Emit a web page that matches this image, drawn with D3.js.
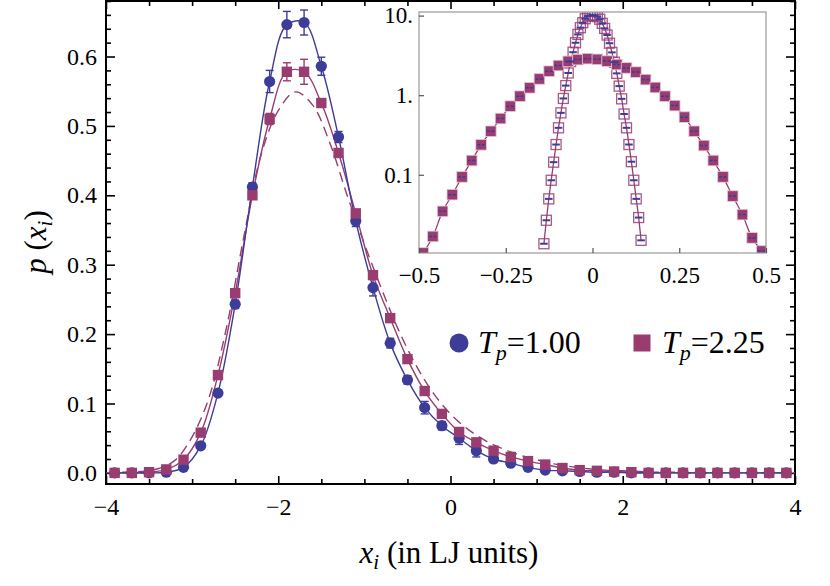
<!DOCTYPE html>
<html>
<head>
  <meta charset="utf-8">
  <title>p(x_i) distributions</title>
  <style>
    body { margin: 0; background: #fff; }
    svg { display: block; font-family: "Liberation Serif", "Times New Roman", serif; }
  </style>
</head>
<body>
  <svg width="830" height="586"></svg>

  <script src="https://d3js.org/d3.v7.min.js"></script>
  <script>
    // ---- main panel data ----
    var xMain = [-3.9, -3.7, -3.5, -3.3, -3.1, -2.9, -2.7, -2.5, -2.3, -2.1,
                 -1.9, -1.7, -1.5, -1.3, -1.1, -0.9, -0.7, -0.5, -0.3, -0.1,
                 0.1, 0.3, 0.5, 0.7, 0.9, 1.1, 1.3, 1.5, 1.7, 1.9,
                 2.1, 2.3, 2.5, 2.7, 2.9, 3.1, 3.3, 3.5, 3.7, 3.9];
    // T_p = 1.00
    var pBlue = [0.000, 0.000, 0.000, 0.001, 0.008, 0.039, 0.115, 0.243, 0.412, 0.564,
                 0.646, 0.649, 0.586, 0.484, 0.363, 0.267, 0.187, 0.134, 0.094, 0.068,
                 0.050, 0.032, 0.020, 0.014, 0.008, 0.004, 0.003, 0.002, 0.001, 0.001,
                 0, 0, 0, 0, 0, 0, 0, 0, 0, 0];
    var errBlue = [0.002, 0.002, 0.002, 0.002, 0.002, 0.003, 0.004, 0.006, 0.006, 0.016,
                   0.019, 0.018, 0.013, 0.008, 0.008, 0.012, 0.007, 0.006, 0.009, 0.006,
                   0.009, 0.009, 0.005, 0.003, 0.002, 0.002, 0.002, 0.002, 0.002, 0.002,
                   0.002, 0.002, 0.002, 0.002, 0.002, 0.002, 0.002, 0.002, 0.002, 0.002];
    // T_p = 2.25
    var pPurple = [0.000, 0.000, 0.001, 0.005, 0.019, 0.058, 0.141, 0.259, 0.400, 0.510,
                   0.578, 0.578, 0.533, 0.461, 0.374, 0.285, 0.223, 0.164, 0.118, 0.085,
                   0.059, 0.044, 0.032, 0.023, 0.017, 0.012, 0.007, 0.004, 0.003, 0.002,
                   0.001, 0, 0, 0, 0, 0, 0, 0, 0, 0];
    var errPurple = [0.002, 0.002, 0.002, 0.002, 0.003, 0.003, 0.004, 0.004, 0.005, 0.008,
                     0.013, 0.018, 0.006, 0.005, 0.004, 0.004, 0.004, 0.003, 0.003, 0.003,
                     0.003, 0.003, 0.002, 0.002, 0.002, 0.002, 0.002, 0.002, 0.002, 0.002,
                     0.002, 0.002, 0.002, 0.002, 0.002, 0.002, 0.002, 0.002, 0.002, 0.002];
    // dashed reference curve for T_p = 2.25
    var xDash = [-4.0, -3.8, -3.6, -3.4, -3.2, -3.0, -2.8, -2.6, -2.4, -2.2,
                 -2.0, -1.8, -1.6, -1.4, -1.2, -1.0, -0.8, -0.6, -0.4, -0.2,
                 0.0, 0.2, 0.4, 0.6, 0.8, 1.0, 1.2, 1.4, 1.6, 1.8,
                 2.0, 2.2, 2.4, 2.6, 2.8, 3.0, 3.2, 3.4, 3.6, 3.8, 4.0];
    var pDash = [0.000, 0.001, 0.002, 0.006, 0.018, 0.052, 0.110, 0.210, 0.340, 0.458,
                 0.522, 0.549, 0.530, 0.475, 0.400, 0.330, 0.265, 0.205, 0.155, 0.115,
                 0.085, 0.063, 0.047, 0.035, 0.026, 0.019, 0.013, 0.009, 0.006, 0.004,
                 0.003, 0.002, 0.001, 0.001, 0, 0, 0, 0, 0, 0, 0];

    var xMajor = [-4, -2, 0, 2, 4];
    var yMajor = [0, 0.1, 0.2, 0.3, 0.4, 0.5, 0.6];

    // ---- inset data (log scale) ----
    var xWide = [-0.488, -0.460, -0.432, -0.404, -0.376, -0.348, -0.321, -0.293, -0.265, -0.237,
                 -0.209, -0.181, -0.153, -0.125, -0.098, -0.070, -0.042, -0.014,
                 0.014, 0.042, 0.070, 0.098, 0.125, 0.153, 0.181, 0.209,
                 0.237, 0.265, 0.293, 0.321, 0.348, 0.376, 0.404, 0.432, 0.460, 0.488];
    var pWide = [0.0104, 0.0168, 0.0347, 0.0563, 0.094, 0.151, 0.238, 0.352, 0.509, 0.728,
                 0.971, 1.24, 1.60, 2.00, 2.36, 2.66, 2.80, 2.88,
                 2.82, 2.68, 2.43, 2.20, 1.95, 1.57, 1.25, 0.97,
                 0.74, 0.53, 0.352, 0.233, 0.151, 0.094, 0.054, 0.0316, 0.0161, 0.0110];
    var xNarrow = [-0.140, -0.133, -0.126, -0.119, -0.112, -0.105, -0.098, -0.091, -0.084, -0.077,
                   -0.070, -0.063, -0.056, -0.049, -0.042, -0.035, -0.028, -0.021, -0.014, -0.007,
                   0.000, 0.007, 0.014, 0.021, 0.028, 0.035, 0.042, 0.049, 0.056, 0.063,
                   0.070, 0.077, 0.084, 0.091, 0.098, 0.105, 0.112, 0.119, 0.126, 0.133, 0.140];
    var pNarrow = [0.0136, 0.0268, 0.0498, 0.0853, 0.144, 0.240, 0.389, 0.60, 0.91, 1.32,
                   1.90, 2.65, 3.47, 4.56, 5.80, 7.05, 8.14, 9.14, 9.86, 10.0,
                   10.2, 10.0, 9.7, 9.0, 8.0, 6.9, 5.7, 4.5, 3.45, 2.60,
                   1.88, 1.30, 0.90, 0.58, 0.389, 0.240, 0.146, 0.0853, 0.0498, 0.0290, 0.0150];

    var insetXTicks = [-0.5, -0.25, 0, 0.25, 0.5];
    var insetXLabels = ['\u22120.5', '\u22120.25', '0', '0.25', '0.5'];
    var insetYTicks = [10, 1, 0.1];
    var insetYLabels = ['10.', '1.', '0.1'];

    var blue = '#3d3d99';
    var purple = '#993d71';
    var serif = '"Liberation Serif", "Times New Roman", serif';

    var svg = d3.select('svg');

    // main panel scales
    var x = d3.scaleLinear().domain([-4, 4]).range([106, 795]);
    var y = d3.scaleLinear().domain([-0.016, 0.68]).range([484, 1]);

    var minorX = d3.range(-4, 4.001, 0.5).filter(function(v) { return Math.abs(v / 2 - Math.round(v / 2)) > 1e-6; });
    var minorY = d3.range(0, 0.681, 0.02).filter(function(v) { return Math.abs(v * 10 - Math.round(v * 10)) > 1e-6; });

    // d3 axes set a sans-serif font on their group, so put the serif back
    function styleAxis(g, size) {
      g.attr('font-family', serif);
      g.select('.domain').remove();
      g.selectAll('.tick line').attr('stroke', '#000').attr('stroke-width', 1.6);
      g.selectAll('.tick text').attr('font-size', size || 24).attr('fill', '#000');
    }

    // inward ticks on all four sides
    svg.append('g').attr('transform', 'translate(0,484)')
      .call(d3.axisBottom(x).tickValues(xMajor).tickSize(-8).tickPadding(14))
      .call(styleAxis);
    svg.append('g').attr('transform', 'translate(0,484)')
      .call(d3.axisBottom(x).tickValues(minorX).tickSize(-5).tickFormat(''))
      .call(styleAxis);
    svg.append('g').attr('transform', 'translate(0,1)')
      .call(d3.axisTop(x).tickValues(xMajor).tickSize(-8).tickFormat(''))
      .call(styleAxis);
    svg.append('g').attr('transform', 'translate(0,1)')
      .call(d3.axisTop(x).tickValues(minorX).tickSize(-5).tickFormat(''))
      .call(styleAxis);
    svg.append('g').attr('transform', 'translate(106,0)')
      .call(d3.axisLeft(y).tickValues(yMajor).tickSize(-9).tickPadding(9).tickFormat(d3.format('.1f')))
      .call(styleAxis);
    svg.append('g').attr('transform', 'translate(106,0)')
      .call(d3.axisLeft(y).tickValues(minorY).tickSize(-5).tickFormat(''))
      .call(styleAxis);
    svg.append('g').attr('transform', 'translate(795,0)')
      .call(d3.axisRight(y).tickValues(yMajor).tickSize(-9).tickFormat(''))
      .call(styleAxis);
    svg.append('g').attr('transform', 'translate(795,0)')
      .call(d3.axisRight(y).tickValues(minorY).tickSize(-5).tickFormat(''))
      .call(styleAxis);

    // frame
    svg.append('rect')
      .attr('x', 106).attr('y', 1).attr('width', 795 - 106).attr('height', 483)
      .attr('fill', 'none').attr('stroke', '#000').attr('stroke-width', 2);

    // curves
    var blueData = xMain.map(function(v, i) { return [v, pBlue[i], errBlue[i]]; });
    var purpleData = xMain.map(function(v, i) { return [v, pPurple[i], errPurple[i]]; });
    var dashData = xDash.map(function(v, i) { return [v, pDash[i]]; });

    var smooth = d3.line()
      .x(function(d) { return x(d[0]); })
      .y(function(d) { return y(d[1]); })
      .curve(d3.curveCatmullRom.alpha(0.5));

    svg.append('path').datum(dashData)
      .attr('d', smooth).attr('fill', 'none')
      .attr('stroke', purple).attr('stroke-width', 1.4).attr('stroke-dasharray', '10,6');
    svg.append('path').datum(purpleData)
      .attr('d', smooth).attr('fill', 'none')
      .attr('stroke', purple).attr('stroke-width', 1.4);
    svg.append('path').datum(blueData)
      .attr('d', smooth).attr('fill', 'none')
      .attr('stroke', blue).attr('stroke-width', 1.4);

    function errorBars(data, color) {
      var g = svg.append('g').attr('stroke', color).attr('stroke-width', 1.4);
      data.forEach(function(d) {
        var cx = x(d[0]), y0 = y(d[1] - d[2]), y1 = y(d[1] + d[2]);
        g.append('line').attr('x1', cx).attr('x2', cx).attr('y1', y0).attr('y2', y1);
        g.append('line').attr('x1', cx - 4).attr('x2', cx + 4).attr('y1', y0).attr('y2', y0);
        g.append('line').attr('x1', cx - 4).attr('x2', cx + 4).attr('y1', y1).attr('y2', y1);
      });
    }

    errorBars(blueData, blue);
    svg.append('g').selectAll('circle')
      .data(blueData).enter().append('circle')
      .attr('cx', function(d) { return x(d[0]); })
      .attr('cy', function(d) { return y(d[1]); })
      .attr('r', 5.6)
      .attr('fill', blue);

    errorBars(purpleData, purple);
    svg.append('g').selectAll('rect')
      .data(purpleData).enter().append('rect')
      .attr('x', function(d) { return x(d[0]) - 5.2; })
      .attr('y', function(d) { return y(d[1]) - 5.2; })
      .attr('width', 10.4).attr('height', 10.4)
      .attr('fill', purple);

    // legend
    var legend = svg.append('g');
    legend.append('circle').attr('cx', 459).attr('cy', 343).attr('r', 9.5).attr('fill', blue);
    legend.append('rect').attr('x', 633.5).attr('y', 334.5).attr('width', 17).attr('height', 17).attr('fill', purple);

    function tpLabel(xPos, value) {
      var t = legend.append('text').attr('x', xPos).attr('y', 353).attr('font-size', 32);
      t.append('tspan').attr('font-style', 'italic').text('T');
      t.append('tspan').attr('font-style', 'italic').attr('font-size', 22).attr('dy', 7).text('p');
      t.append('tspan').attr('dy', -7).text('=' + value);
    }
    tpLabel(478, '1.00');
    tpLabel(662, '2.25');

    // axis titles
    var xt = svg.append('text').attr('x', 449).attr('y', 563)
      .attr('text-anchor', 'middle').attr('font-size', 31);
    xt.append('tspan').attr('font-style', 'italic').text('x');
    xt.append('tspan').attr('font-style', 'italic').attr('font-size', 21).attr('dy', 6).text('i');
    xt.append('tspan').attr('dy', -6).text(' (in LJ units)');

    var yt = svg.append('text').attr('transform', 'translate(46,242) rotate(-90)')
      .attr('text-anchor', 'middle').attr('font-size', 31);
    yt.append('tspan').attr('font-style', 'italic').text('p');
    yt.append('tspan').text(' (');
    yt.append('tspan').attr('font-style', 'italic').text('x');
    yt.append('tspan').attr('font-style', 'italic').attr('font-size', 21).attr('dy', 6).text('i');
    yt.append('tspan').attr('dy', -6).text(')');

    // ---- inset ----
    var ix = d3.scaleLinear().domain([-0.5, 0.5]).range([419, 766]);
    var iy = d3.scaleLog().domain([0.0104, 11.1]).range([253, 12]);

    svg.append('rect')
      .attr('x', 419).attr('y', 12).attr('width', 766 - 419).attr('height', 253 - 12)
      .attr('fill', '#fff');

    svg.append('clipPath').attr('id', 'inset-clip')
      .append('rect').attr('x', 419).attr('y', 12).attr('width', 766 - 419).attr('height', 253 - 12);

    var inset = svg.append('g').attr('clip-path', 'url(#inset-clip)');

    var wideData = xWide.map(function(v, i) { return [v, pWide[i]]; });
    var narrowData = xNarrow.map(function(v, i) { return [v, pNarrow[i]]; });

    var insetLine = d3.line()
      .x(function(d) { return ix(d[0]); })
      .y(function(d) { return iy(d[1]); })
      .curve(d3.curveCatmullRom.alpha(0.5));

    inset.append('path').datum(narrowData).attr('d', insetLine)
      .attr('fill', 'none').attr('stroke', purple).attr('stroke-width', 1.3);
    inset.append('path').datum(wideData).attr('d', insetLine)
      .attr('fill', 'none').attr('stroke', purple).attr('stroke-width', 1.3);

    // open squares for the narrow distribution
    inset.append('g').selectAll('rect')
      .data(narrowData).enter().append('rect')
      .attr('x', function(d) { return ix(d[0]) - 5; })
      .attr('y', function(d) { return iy(d[1]) - 5; })
      .attr('width', 10).attr('height', 10)
      .attr('fill', 'none').attr('stroke', purple).attr('stroke-width', 1.3)
      .attr('stroke-opacity', 0.85);

    // filled squares for the wide distribution
    inset.append('g').selectAll('rect')
      .data(wideData).enter().append('rect')
      .attr('x', function(d) { return ix(d[0]) - 5.3; })
      .attr('y', function(d) { return iy(d[1]) - 5.3; })
      .attr('width', 10.6).attr('height', 10.6)
      .attr('fill', purple).attr('stroke', '#e6c9d8').attr('stroke-width', 0.8);

    // blue points sitting on top of the purple ones
    inset.append('g').selectAll('line')
      .data(narrowData).enter().append('line')
      .attr('x1', function(d) { return ix(d[0]) - 3.8; })
      .attr('x2', function(d) { return ix(d[0]) + 3.8; })
      .attr('y1', function(d) { return iy(d[1]); })
      .attr('y2', function(d) { return iy(d[1]); })
      .attr('stroke', blue).attr('stroke-width', 2);
    inset.append('g').selectAll('line')
      .data(wideData).enter().append('line')
      .attr('x1', function(d) { return ix(d[0]) - 4; })
      .attr('x2', function(d) { return ix(d[0]) + 4; })
      .attr('y1', function(d) { return iy(d[1]); })
      .attr('y2', function(d) { return iy(d[1]); })
      .attr('stroke', blue).attr('stroke-width', 1.5).attr('stroke-dasharray', '3,1.5');

    // inset frame, ticks, labels
    svg.append('rect')
      .attr('x', 419).attr('y', 12).attr('width', 766 - 419).attr('height', 253 - 12)
      .attr('fill', 'none').attr('stroke', '#999').attr('stroke-width', 1.2);

    var ixAxis = svg.append('g').attr('transform', 'translate(0,253)')
      .call(d3.axisBottom(ix).tickValues(insetXTicks).tickSize(-5).tickPadding(14)
        .tickFormat(function(d, i) { return insetXLabels[i]; }));
    styleAxis(ixAxis, 23);
    ixAxis.selectAll('.tick line').attr('stroke', '#555').attr('stroke-width', 1.2);

    var iyAxis = svg.append('g').attr('transform', 'translate(419,0)')
      .call(d3.axisLeft(iy).tickValues(insetYTicks).tickSize(-5).tickPadding(6)
        .tickFormat(function(d, i) { return insetYLabels[i]; }));
    styleAxis(iyAxis, 23);
    iyAxis.selectAll('.tick line').attr('stroke', '#555').attr('stroke-width', 1.2);
  </script>
</body>
</html>
